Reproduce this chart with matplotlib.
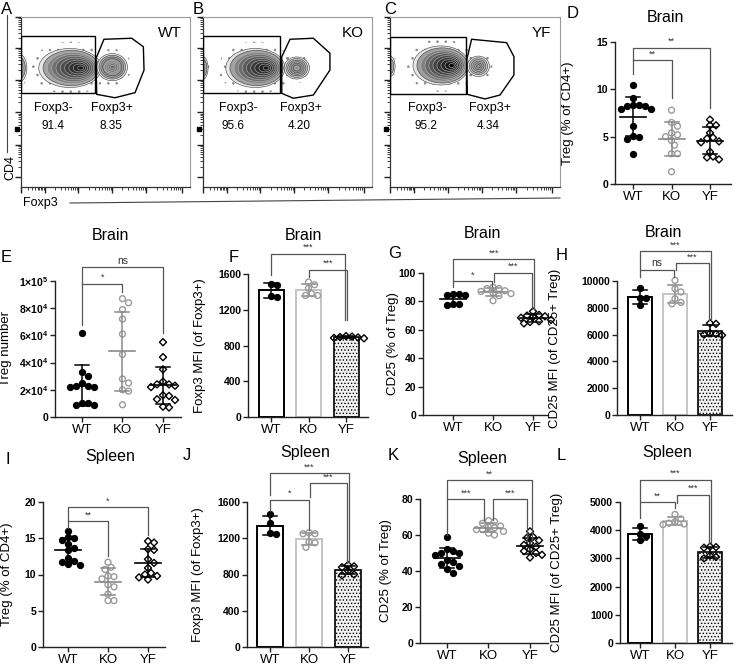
import matplotlib.pyplot as plt
import numpy as np
from matplotlib.patches import Ellipse, Polygon, Rectangle
from matplotlib.lines import Line2D

plt.rcParams['font.family'] = ['Liberation Sans', 'DejaVu Sans']
plt.rcParams['mathtext.fontset'] = 'custom'
plt.rcParams['mathtext.rm'] = 'Liberation Sans'
plt.rcParams['mathtext.bf'] = 'Liberation Sans:bold'
plt.rcParams['hatch.linewidth'] = 0.6

#%% Data
groups = ['WT', 'KO', 'YF']

flow_genotypes = ['WT', 'KO', 'YF']
flow_neg_pct = ['91.4', '95.6', '95.2']
flow_pos_pct = ['8.35', '4.20', '4.34']

brain_pct_wt = [10.5, 9.1, 8.3, 8.2, 8.2, 8.3, 7.9, 7.9, 6.1, 5.1, 5.0, 4.8, 3.2]
brain_pct_ko = [7.8, 6.5, 6.1, 5.4, 5.2, 5.0, 4.6, 4.1, 3.2, 3.2, 1.3]
brain_pct_yf = [6.8, 6.2, 6.2, 5.4, 4.9, 4.8, 4.5, 4.4, 3.4, 2.9, 2.8, 2.6]

brain_num_wt = [62000, 33000, 30000, 25000, 23000, 22000, 22000, 23000, 10000, 8500, 9000, 10000]
brain_num_ko = [87000, 84000, 79000, 72000, 61000, 46000, 28000, 25000, 20000, 19000, 9000]
brain_num_yf = [55000, 44000, 35000, 26000, 24000, 24000, 23000, 22000, 16000, 15500, 13000, 12500, 7600, 7000]

brain_foxp3_wt = [1490, 1480, 1355, 1340]
brain_foxp3_ko = [1510, 1480, 1440, 1360, 1360, 1380]
brain_foxp3_yf = [905, 895, 890, 885, 880, 900]

brain_cd25_wt = [85, 84.5, 85, 84.5, 78, 77.5, 78]
brain_cd25_ko = [89, 90, 89, 87.5, 87, 86, 85.5, 84, 80.5]
brain_cd25_yf = [73, 70.5, 70, 69.5, 69, 68.5, 67, 66, 64.5, 65.5]

brain_cd25mfi_wt = [9500, 8760, 8700, 8200]
brain_cd25mfi_ko = [10050, 9430, 9180, 8680, 8300, 8400]
brain_cd25mfi_yf = [6800, 6850, 6050, 6000, 6100, 5950]

spleen_pct_wt = [16.0, 15.2, 15.0, 14.7, 14.2, 13.6, 13.4, 12.3, 11.7, 11.4, 11.3, 11.8]
spleen_pct_ko = [11.7, 11.0, 10.7, 9.7, 9.4, 9.8, 8.6, 8.3, 7.3, 6.4, 6.4]
spleen_pct_yf = [14.6, 14.4, 13.4, 13.5, 12.1, 11.6, 10.9, 10.2, 10.0, 9.8, 9.6, 9.3]

spleen_foxp3_wt = [1470, 1370, 1255, 1250]
spleen_foxp3_ko = [1250, 1260, 1250, 1150, 1160, 1100]
spleen_foxp3_yf = [890, 905, 880, 840, 790, 800]

spleen_cd25_wt = [59, 52, 51, 50, 50, 49, 46, 45, 44, 43, 41, 39]
spleen_cd25_ko = [68, 67.5, 66.5, 65, 64.5, 64, 63, 63, 61, 60, 62]
spleen_cd25_yf = [62, 59, 58.5, 57, 55.5, 54.5, 53.5, 52, 51, 50, 49, 47.5]

spleen_cd25mfi_wt = [4150, 3850, 3780, 3650]
spleen_cd25mfi_ko = [4560, 4400, 4300, 4250, 4200, 4220]
spleen_cd25mfi_yf = [3420, 3400, 3380, 3100, 3050, 3000]

#%% Figure helpers
W, H = 737, 668
fig = plt.figure(figsize=(W / 100, H / 100), dpi=100)


def ax_at(L, T, R, B):
    return fig.add_axes([L / W, 1 - B / H, (R - L) / W, (B - T) / H])


def ftext(x, y, s, **kw):
    fig.text(x / W, 1 - y / H, s, **kw)


def swarm(ys_px, d):
    order = np.argsort(ys_px)[::-1]
    placed = []
    offs = np.zeros(len(ys_px))
    cands = [0.0]
    for k in range(1, 14):
        cands += [k * d * 0.5, -k * d * 0.5]
    for idx in order:
        y = ys_px[idx]
        for c in cands:
            if all((c - px) ** 2 + (y - py) ** 2 >= (d * 0.92) ** 2 for px, py in placed):
                break
        placed.append((c, y))
        offs[idx] = c
    return offs


styles = [
    dict(marker='o', fc='black', ec='black', s=18, line='black'),
    dict(marker='o', fc='none', ec='#9a9a9a', s=18, line='#8a8a8a'),
    dict(marker='D', fc='none', ec='black', s=13, line='black'),
]
bar_edges = ['black', '#c4c4c4', 'black']


def stat_panel(lay, data, kind):
    L, T, R, B = lay['box']
    g0, g2 = lay['groups_px']
    sp = (g2 - g0) / 2.0
    x0, x1 = (L - g0) / sp, (R - g0) / sp
    ymax = lay['yticks'][-1]
    ax = ax_at(L, T, R, B)
    ax.set_xlim(x0, x1)
    ax.set_ylim(0, ymax)
    pxx = sp
    pxy = (B - T) / ymax
    for s in ['top', 'right']:
        ax.spines[s].set_visible(False)
    for s in ['left', 'bottom']:
        ax.spines[s].set_linewidth(1.0)
        ax.spines[s].set_color('#222222')
    ax.spines['left'].set_bounds(0, ymax)
    ax.set_xticks(range(3))
    ax.set_xticklabels(groups, fontsize=9.5)
    ax.set_yticks(lay['yticks'])
    ax.set_yticklabels(lay['yticklabels'], fontsize=7.5, fontweight='bold')
    ax.tick_params(axis='both', direction='out', length=3.5, width=1.0, color='#222222', pad=1.5)
    ax.tick_params(axis='x', pad=1.5)
    ax.set_ylabel(lay['ylabel'], fontsize=9.5)
    ax.yaxis.set_label_coords((lay['ylab_x'] - L) / (R - L), 0.5)

    for i, vals in enumerate(data):
        v = np.array(vals, dtype=float)
        st = styles[i]
        m, sd = v.mean(), v.std(ddof=1)
        if kind == 'bar':
            bw = lay['bar_px'] / pxx
            if i == 2:
                ax.bar(i, m, width=bw, facecolor='#f2f2f2', edgecolor='black', hatch='.....',
                       linewidth=1.2, zorder=1)
            else:
                ax.bar(i, m, width=bw, facecolor='white', edgecolor=bar_edges[i],
                       linewidth=1.4, zorder=1)
            cw = 7 / pxx
            ax.plot([i, i], [m - sd, m + sd], color=st['line'], lw=1.1, zorder=2)
            for yy in (m - sd, m + sd):
                ax.plot([i - cw, i + cw], [yy, yy], color=st['line'], lw=1.1, zorder=2)
        else:
            mw = 13 / pxx
            cw = 7 / pxx
            ax.plot([i - mw, i + mw], [m, m], color=st['line'], lw=1.2, zorder=4)
            ax.plot([i, i], [m - sd, m + sd], color=st['line'], lw=1.1, zorder=4)
            for yy in (m - sd, m + sd):
                ax.plot([i - cw, i + cw], [yy, yy], color=st['line'], lw=1.1, zorder=4)
        offs = swarm(v * pxy, 6.0) / pxx
        ax.scatter(i + offs, v, marker=st['marker'], s=st['s'], facecolors=st['fc'],
                   edgecolors=st['ec'], linewidths=1.0, zorder=3, clip_on=False)

    for (xa, xb, h, la, lb, txt) in lay['brackets']:
        ax.plot([xa, xa, xb, xb], [la, h, h, lb], color='#555555', lw=0.9,
                clip_on=False, zorder=5)
        fs = 7.5 if txt == 'ns' else 6.5
        ax.text((xa + xb) / 2, h + 1.5 / pxy, txt, ha='center', va='bottom',
                fontsize=fs, color='#333333', clip_on=False)

    ftext(lay['title_xy'][0], lay['title_xy'][1], lay['title'], fontsize=11.5,
          ha='center', va='center')
    ftext(lay['letter_xy'][0], lay['letter_xy'][1], lay['letter'], fontsize=12,
          ha='left', va='center')
    return ax


def sci(a, e):
    return r'$\mathbf{%d{\times}10^{%d}}$' % (a, e)


panels = [
    (dict(box=(615, 42, 731, 184), groups_px=(633, 710), yticks=[0, 5, 10, 15],
          yticklabels=['0', '5', '10', '15'], ylabel='Treg (% of CD4+)', ylab_x=574,
          title='Brain', title_xy=(665, 18), letter='D', letter_xy=(567, 14),
          brackets=[(0, 1, 13.1, 11.6, 9.1, '**'), (0, 2, 14.4, 13.1, 8.0, '**')]),
     [brain_pct_wt, brain_pct_ko, brain_pct_yf], 'scatter'),
    (dict(box=(55, 281, 181, 417), groups_px=(82, 163),
          yticks=[0, 20000, 40000, 60000, 80000, 100000],
          yticklabels=['0', sci(2, 4), sci(4, 4), sci(6, 4), sci(8, 4), sci(1, 5)],
          ylabel='Treg number', ylab_x=12,
          title='Brain', title_xy=(110, 235), letter='E', letter_xy=(1, 257),
          brackets=[(0, 1, 98000, 68000, 92000, '*'), (0, 2, 110000, 98000, 62000, 'ns')]),
     [brain_num_wt, brain_num_ko, brain_num_yf], 'scatter'),
    (dict(box=(248, 274, 368, 417), groups_px=(271, 346), yticks=[0, 400, 800, 1200, 1600],
          yticklabels=['0', '400', '800', '1200', '1600'], ylabel='Foxp3 MFI (of Foxp3+)',
          ylab_x=206, bar_px=25,
          title='Brain', title_xy=(303, 235), letter='F', letter_xy=(229, 257),
          brackets=[(0, 1.97, 1829, 1590, 1085, '***'), (1, 2.03, 1650, 1570, 1085, '***')]),
     [brain_foxp3_wt, brain_foxp3_ko, brain_foxp3_yf], 'bar'),
    (dict(box=(423, 273, 548, 415), groups_px=(453, 533), yticks=[0, 20, 40, 60, 80, 100],
          yticklabels=['0', '20', '40', '60', '80', '100'], ylabel='CD25 (% of Treg)',
          ylab_x=399,
          title='Brain', title_xy=(482, 234), letter='G', letter_xy=(388, 253),
          brackets=[(0, 0.97, 94.4, 90, 91, '*'), (1.03, 1.97, 100.2, 94, 75, '***'),
                    (0, 2.03, 110, 94.4, 75, '***')]),
     [brain_cd25_wt, brain_cd25_ko, brain_cd25_yf], 'scatter'),
    (dict(box=(617, 281, 732, 415), groups_px=(640, 710),
          yticks=[0, 2000, 4000, 6000, 8000, 10000],
          yticklabels=['0', '2000', '4000', '6000', '8000', '10000'],
          ylabel='CD25 MFI (of CD25+ Treg)', ylab_x=561, bar_px=24,
          title='Brain', title_xy=(663, 232), letter='H', letter_xy=(556, 256),
          brackets=[(0, 0.97, 10840, 10300, 10300, 'ns'), (1.03, 1.97, 11360, 10840, 7070, '***'),
                    (0, 2.03, 12230, 10840, 7070, '***')]),
     [brain_cd25mfi_wt, brain_cd25mfi_ko, brain_cd25mfi_yf], 'bar'),
    (dict(box=(43, 502, 165, 647), groups_px=(68, 148), yticks=[0, 5, 10, 15, 20],
          yticklabels=['0', '5', '10', '15', '20'], ylabel='Treg (% of CD4+)', ylab_x=13,
          title='Spleen', title_xy=(110, 457), letter='I', letter_xy=(6, 460),
          brackets=[(0, 1, 17.4, 16.4, 12.5, '**'), (0, 2, 19.3, 17.4, 15.5, '*')]),
     [spleen_pct_wt, spleen_pct_ko, spleen_pct_yf], 'scatter'),
    (dict(box=(247, 502, 368, 647), groups_px=(270, 348), yticks=[0, 400, 800, 1200, 1600],
          yticklabels=['0', '400', '800', '1200', '1600'], ylabel='Foxp3 MFI (of Foxp3+)',
          ylab_x=204, bar_px=26,
          title='Spleen', title_xy=(305, 452), letter='J', letter_xy=(183, 456),
          brackets=[(0, 1, 1626, 1500, 1290, '*'), (1.03, 1.97, 1806, 1660, 930, '***'),
                    (0, 2.03, 1920, 1680, 930, '***')]),
     [spleen_foxp3_wt, spleen_foxp3_ko, spleen_foxp3_yf], 'bar'),
    (dict(box=(420, 499, 548, 643), groups_px=(447, 530), yticks=[0, 20, 40, 60, 80],
          yticklabels=['0', '20', '40', '60', '80'], ylabel='CD25 (% of Treg)', ylab_x=392,
          title='Spleen', title_xy=(482, 458), letter='K', letter_xy=(388, 455),
          brackets=[(0, 0.9, 79.9, 60, 68.4, '***'), (1.1, 1.93, 79.9, 68.4, 56, '***'),
                    (0, 2.05, 90.6, 79.9, 56, '**')]),
     [spleen_cd25_wt, spleen_cd25_ko, spleen_cd25_yf], 'scatter'),
    (dict(box=(620, 502, 732, 643), groups_px=(640, 710),
          yticks=[0, 1000, 2000, 3000, 4000, 5000],
          yticklabels=['0', '1000', '2000', '3000', '4000', '5000'],
          ylabel='CD25 MFI (of CD25+ Treg)', ylab_x=563, bar_px=24,
          title='Spleen', title_xy=(667, 452), letter='L', letter_xy=(557, 455),
          brackets=[(0, 1, 5000, 4430, 4790, '**'), (1.06, 1.97, 5260, 4960, 3550, '***'),
                    (0, 2.03, 5792, 5000, 3550, '***')]),
     [spleen_cd25mfi_wt, spleen_cd25mfi_ko, spleen_cd25mfi_yf], 'bar'),
]

for lay, data, kind in panels:
    stat_panel(lay, data, kind)

#%% Flow cytometry panels (A-C)
flow_boxes = [(21, 17, 190, 187), (203, 17, 372, 187), (390, 17, 560, 187)]
flow_letters = [('A', 1, 9), ('B', 193, 9), ('C', 384, 9)]

# (cx, cy, width, height, levels, right shift, darkest grey)
flow_pops = [
    [(-0.01, 0.70, 0.09, 0.16, 5, 0.0, 0.30), (0.29, 0.70, 0.37, 0.23, 10, 0.07, 0.10),
     (0.54, 0.705, 0.18, 0.16, 8, 0.0, 0.40)],
    [(-0.005, 0.70, 0.07, 0.14, 5, 0.0, 0.35), (0.31, 0.70, 0.35, 0.23, 10, 0.07, 0.08),
     (0.555, 0.70, 0.15, 0.13, 7, 0.0, 0.55)],
    [(0.0, 0.71, 0.06, 0.12, 4, 0.0, 0.45), (0.30, 0.715, 0.33, 0.23, 10, 0.07, 0.05),
     (0.52, 0.71, 0.13, 0.12, 6, 0.0, 0.60)],
]
flow_rects = [(0.439, 0.551, 0.886), (0.456, 0.551, 0.886), (0.447, 0.547, 0.884)]
flow_polys = [
    [(0.444, 0.757), (0.491, 0.869), (0.655, 0.875), (0.724, 0.825), (0.728, 0.688),
     (0.675, 0.555), (0.556, 0.525), (0.448, 0.545)],
    [(0.466, 0.766), (0.515, 0.869), (0.653, 0.875), (0.751, 0.787), (0.751, 0.688),
     (0.653, 0.541), (0.534, 0.522), (0.466, 0.551)],
    [(0.451, 0.747), (0.480, 0.869), (0.686, 0.849), (0.729, 0.767), (0.729, 0.659),
     (0.647, 0.541), (0.559, 0.518), (0.455, 0.545)],
]
flow_text_x = [(0.19, 0.19, 0.54, 0.53), (0.21, 0.18, 0.58, 0.57), (0.22, 0.21, 0.59, 0.58)]

xmaj = [0.0, 0.14, 0.34, 0.54, 0.74, 0.95]
ymaj = [0.06, 0.25, 0.44, 0.63, 0.82, 1.0]


def log_minors(maj):
    out = []
    for a, b in zip(maj[:-1], maj[1:]):
        out += [a + (b - a) * np.log10(k) for k in range(2, 10)]
    return out


for p in range(3):
    ax = ax_at(*flow_boxes[p])
    ax.set_xlim(0, 1)
    ax.set_ylim(0, 1)
    for s in ['top', 'right']:
        ax.spines[s].set_color('#9a9a9a')
        ax.spines[s].set_linewidth(0.8)
    for s in ['left', 'bottom']:
        ax.spines[s].set_color('#333333')
        ax.spines[s].set_linewidth(0.9)
    ax.set_xticks(xmaj)
    ax.set_xticks(log_minors(xmaj), minor=True)
    ax.set_yticks(ymaj)
    ax.set_yticks(log_minors(ymaj), minor=True)
    ax.set_xticklabels([])
    ax.set_yticklabels([])
    ax.tick_params(which='major', direction='out', length=4, width=1.0, color='#222222')
    ax.tick_params(which='minor', direction='out', length=2.5, width=0.6, color='#222222')

    for (cx, cy, w, h, n, shift, dark) in flow_pops[p]:
        # speckled halo of single events round each population
        ax.add_patch(Ellipse((cx, cy), w * 1.25, h * 1.35, facecolor='none',
                             edgecolor='#8a8a8a', hatch='..', lw=0, zorder=1))
        for k in range(n):
            f = 1 - k / n
            g = 0.9 - (0.9 - dark) * np.sqrt(k / max(n - 1, 1))
            ec = '#3a3a3a' if g > 0.55 else '#b8b8b8'
            ax.add_patch(Ellipse((cx + shift * (1 - f), cy), w * f, h * f,
                                 facecolor=str(g), edgecolor=ec, lw=0.4, zorder=2))

    gx, gb, gt = flow_rects[p]
    ax.add_patch(Rectangle((0, gb), gx, gt - gb, fill=False, edgecolor='black', lw=1.0, zorder=4))
    ax.add_patch(Polygon(flow_polys[p], closed=True, fill=False, edgecolor='black', lw=1.0, zorder=4))

    ax.plot([-0.022], [0.339], marker='s', ms=3.5, color='black', clip_on=False, zorder=6)

    tx = flow_text_x[p]
    ax.text(0.95, 0.905, flow_genotypes[p], ha='right', va='center', fontsize=11)
    ax.text(tx[0], 0.465, 'Foxp3-', ha='center', va='center', fontsize=9)
    ax.text(tx[1], 0.36, flow_neg_pct[p], ha='center', va='center', fontsize=8.5)
    ax.text(tx[2], 0.465, 'Foxp3+', ha='center', va='center', fontsize=9)
    ax.text(tx[3], 0.36, flow_pos_pct[p], ha='center', va='center', fontsize=8.5)

    lt, lx, ly = flow_letters[p]
    ftext(lx, ly, lt, fontsize=12, ha='left', va='center')

# shared axis titles of the flow plots
ftext(10, 168, 'CD4', rotation=90, fontsize=9, ha='center', va='center')
fig.add_artist(Line2D([7 / W, 7 / W], [1 - 15 / H, 1 - 152 / H], color='#444444', lw=0.8))
ftext(23, 203, 'Foxp3', fontsize=9, ha='left', va='center')
fig.add_artist(Line2D([70 / W, 560 / W], [1 - 203 / H, 1 - 198 / H], color='#444444', lw=0.8))

fig.savefig('out.png', dpi=100)
